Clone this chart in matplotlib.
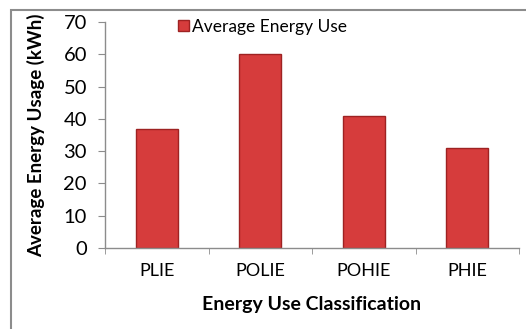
import matplotlib.pyplot as plt
from matplotlib.patches import Rectangle

categories = ['PLIE', 'POLIE', 'POHIE', 'PHIE']
energy_use = [37, 60, 40.8, 31]

plt.rcParams['font.family'] = ['Lato', 'DejaVu Sans']

fig = plt.figure(figsize=(5.26, 3.29), dpi=100)
ax = fig.add_axes([105 / 526, 1 - 248 / 329, (519 - 105) / 526, (248 - 22) / 329])

# outer chart frame (gray, as in the spreadsheet export)
fig.patches.append(Rectangle((11 / 526, -0.05), 1.0, 1 - 10 / 329 + 0.05,
                             transform=fig.transFigure, fill=False,
                             edgecolor='#8c8c8c', linewidth=1.5))

x = range(len(categories))
bars = ax.bar(x, energy_use, width=0.41, color='#d63c3c', edgecolor='#9e2222',
              linewidth=1.0, label='Average Energy Use', zorder=2)

ax.set_xlim(-0.5, len(categories) - 0.5)
ax.set_ylim(0, 70)
ax.set_yticks(range(0, 71, 10))
ax.set_xticks(list(x))
ax.set_xticklabels(categories)
ax.set_xticks([i - 0.5 for i in range(len(categories) + 1)], minor=True)

for s in ['top', 'right']:
    ax.spines[s].set_visible(False)
for s in ['left', 'bottom']:
    ax.spines[s].set_color('#8c8c8c')
    ax.spines[s].set_linewidth(1.0)

ax.tick_params(axis='y', direction='out', length=5, color='#8c8c8c', labelsize=14.5, pad=8)
ax.tick_params(axis='x', which='major', length=0, labelsize=13, pad=11)
ax.tick_params(axis='x', which='minor', direction='out', length=4, color='#8c8c8c')

ax.set_ylabel('Average Energy Usage (kWh)', fontsize=13.5, fontweight='bold', labelpad=13)
ax.set_xlabel('Energy Use Classification', fontsize=14, fontweight='bold', labelpad=12)

ax.legend(loc='upper left', bbox_to_anchor=(0.16, 1.045), frameon=False, fontsize=12.5,
          handlelength=0.6, handleheight=0.6, handletextpad=0.2, borderaxespad=0)

fig.savefig('out.png', dpi=100)
